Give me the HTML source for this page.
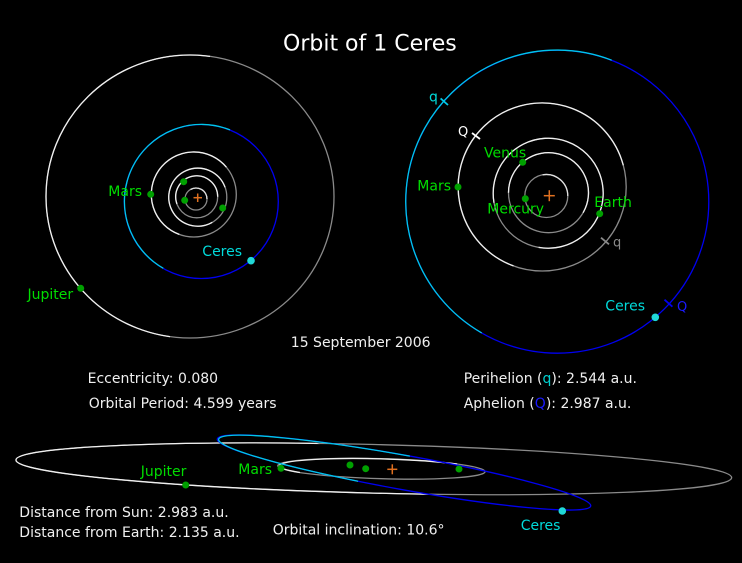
<!DOCTYPE html>
<html><head><meta charset="utf-8"><style>
html,body{margin:0;padding:0;background:#000;}
svg{display:block;}
text{font-family:"DejaVu Sans","Liberation Sans",sans-serif;}
</style></head><body>
<svg width="742" height="563" viewBox="0 0 742 563" xmlns="http://www.w3.org/2000/svg">
<defs>
<clipPath id="jupL"><polygon points="230,-84 150,477 -100,477 -100,-84"/></clipPath>
<clipPath id="jupB"><polygon points="205.8,392 541.2,545.6 -100,545.6 -100,392"/></clipPath>
</defs>
<rect width="742" height="563" fill="#000"/>
<g fill="none" stroke-width="1.3">
<!-- LEFT PANEL -->
<ellipse cx="190" cy="196.5" rx="144" ry="141.5" stroke="#8a8a8a"/>
<ellipse cx="190" cy="196.5" rx="144" ry="141.5" stroke="#f0f0f0" clip-path="url(#jupL)"/>
<circle cx="201.3" cy="201.5" r="77" stroke="#0000f0"/>
<path d="M230 129.9 A77 77 0 0 0 163.3 268.3" stroke="#00c8e8"/>
<circle cx="193.8" cy="194.5" r="42.5" stroke="#8a8a8a"/>
<path d="M226.4 167.2 A42.5 42.5 0 1 0 179.3 234.4" stroke="#f0f0f0"/>
<circle cx="197.8" cy="197.2" r="29" stroke="#8a8a8a"/>
<path d="M225.05 187.3 A29 29 0 1 0 212.3 222.3" stroke="#f0f0f0"/>
<circle cx="196.7" cy="196.8" r="21" stroke="#8a8a8a"/>
<path d="M217.7 196.8 A21 21 0 1 0 176.97 203.98" stroke="#f0f0f0"/>
<circle cx="196" cy="199" r="11" stroke="#8a8a8a"/>
<path d="M207 199 A11 11 0 0 0 190.5 189.5" stroke="#e0e0e0"/>
<!-- RIGHT PANEL -->
<circle cx="557.3" cy="201.7" r="151.5" stroke="#0000f0"/>
<path d="M611.7 60.2 A151.5 151.5 0 0 0 481.7 332.9" stroke="#00c8e8"/>
<circle cx="542.2" cy="187" r="84" stroke="#8a8a8a"/>
<path d="M623.3 165.3 A84 84 0 1 0 513.5 265.9" stroke="#f0f0f0"/>
<circle cx="548.2" cy="193.2" r="55" stroke="#8a8a8a"/>
<path d="M538.65 247.4 A55 55 0 1 0 494.0 202.75" stroke="#f0f0f0"/>
<circle cx="548.5" cy="192.7" r="40" stroke="#8a8a8a"/>
<path d="M583.1 212.7 A40 40 0 1 0 508.5 192.7" stroke="#f0f0f0"/>
<circle cx="546.3" cy="196" r="21.5" stroke="#8a8a8a"/>
<path d="M567.8 196 A21.5 21.5 0 0 0 542.57 174.83" stroke="#e0e0e0"/>
<!-- markers -->
<line x1="440.6" y1="98.4" x2="448" y2="105" stroke="#00c8e8" stroke-width="1.8"/>
<line x1="472" y1="133" x2="480" y2="139" stroke="#fff" stroke-width="1.8"/>
<line x1="601" y1="237.7" x2="609" y2="244.3" stroke="#8a8a8a" stroke-width="1.8"/>
<line x1="664.5" y1="299.7" x2="672.4" y2="306.7" stroke="#0000f0" stroke-width="1.8"/>
<!-- BOTTOM PANEL -->
<ellipse cx="373.8" cy="468.8" rx="358" ry="24.3" transform="rotate(1.42 373.8 468.8)" stroke="#8a8a8a"/>
<g clip-path="url(#jupB)">
<ellipse cx="373.8" cy="468.8" rx="358" ry="24.3" transform="rotate(1.42 373.8 468.8)" stroke="#f0f0f0"/>
</g>
<ellipse cx="381.4" cy="468.7" rx="103.7" ry="10" transform="rotate(1.66 381.4 468.7)" stroke="#8a8a8a"/>
<path d="M457.2 464.05 A103.7 10 1.66 0 0 299.9 472.5" stroke="#f0f0f0"/>
<ellipse cx="404" cy="472.5" rx="189.7" ry="17.2" transform="rotate(10.17 404 472.5)" stroke="#0000f0"/>
<path d="M409.8 456.1 A189.7 17.2 10.17 0 0 358.07 481.27" stroke="#00c8e8"/>
<!-- sun crosses -->
<g stroke="#e07020" stroke-width="1.5">
<line x1="193.5" y1="197.7" x2="202" y2="197.7"/><line x1="197.7" y1="193.5" x2="197.7" y2="202"/>
<line x1="543.8" y1="195.7" x2="554.8" y2="195.7"/><line x1="549.3" y1="190.2" x2="549.3" y2="201.2"/>
<line x1="387.3" y1="469.3" x2="397.3" y2="469.3"/><line x1="392.3" y1="464.3" x2="392.3" y2="474.3"/>
</g>
</g>
<!-- planet dots -->
<g fill="#00a000">
<circle cx="150.7" cy="194.3" r="3.5"/><circle cx="183.7" cy="181.7" r="3.5"/><circle cx="184.7" cy="200.3" r="3.5"/><circle cx="222.7" cy="208" r="3.5"/><circle cx="80.7" cy="288.3" r="3.5"/>
<circle cx="522.7" cy="162.3" r="3.5"/><circle cx="458" cy="187" r="3.5"/><circle cx="525.3" cy="198.7" r="3.5"/><circle cx="599.7" cy="213.7" r="3.5"/>
<circle cx="185.7" cy="485" r="3.5"/><circle cx="281" cy="468.3" r="3.5"/><circle cx="350" cy="465" r="3.5"/><circle cx="365.7" cy="468.7" r="3.5"/><circle cx="459" cy="469" r="3.5"/>
</g>
<g fill="#20d8d8">
<circle cx="251" cy="260.7" r="3.8"/><circle cx="655.3" cy="317.3" r="3.8"/><circle cx="562.3" cy="511" r="3.8"/>
</g>
<!-- labels -->
<g font-size="14" fill="#00dd00">
<text x="142" y="196" text-anchor="end">Mars</text>
<text x="27.5" y="299">Jupiter</text>
<text x="484" y="157.5">Venus</text>
<text x="417.3" y="190.3">Mars</text>
<text x="487.3" y="213.7">Mercury</text>
<text x="594.3" y="207">Earth</text>
<text x="140.7" y="476">Jupiter</text>
<text x="238.3" y="474">Mars</text>
</g>
<g font-size="14" fill="#00dada">
<text x="202.3" y="256.2">Ceres</text>
<text x="605.3" y="310.5">Ceres</text>
<text x="520.7" y="530">Ceres</text>
<text x="429" y="101.5">q</text>
</g>
<text x="458" y="136" font-size="13" fill="#ffffff">Q</text>
<text x="613" y="246.5" font-size="13" fill="#8a8a8a">q</text>
<text x="677" y="311" font-size="13" fill="#1a1aff">Q</text>
<text x="283" y="50.5" font-size="22" fill="#ffffff">Orbit of 1 Ceres</text>
<g font-size="14" fill="#f0f0f0">
<text x="290.8" y="347">15 September 2006</text>
<text x="87.6" y="383">Eccentricity: 0.080</text>
<text x="88.7" y="408">Orbital Period: 4.599 years</text>
<text x="463.7" y="383">Perihelion (<tspan fill="#00d0d0">q</tspan>): 2.544 a.u.</text>
<text x="463.7" y="408">Aphelion (<tspan fill="#1a1aff">Q</tspan>): 2.987 a.u.</text>
<text x="19.3" y="517">Distance from Sun: 2.983 a.u.</text>
<text x="19.3" y="537">Distance from Earth: 2.135 a.u.</text>
<text x="272.7" y="534.5">Orbital inclination: 10.6°</text>
</g>
</svg>
</body></html>
